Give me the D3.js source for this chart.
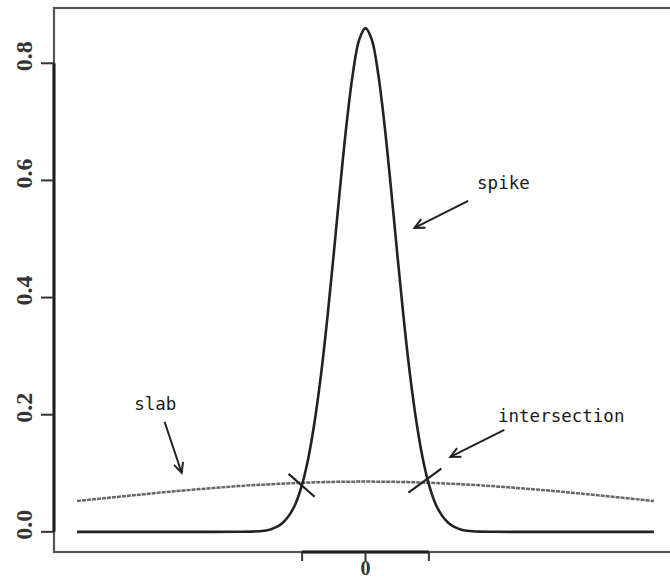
<!DOCTYPE html>
<html>
<head>
<meta charset="utf-8">
<script src="https://d3js.org/d3.v7.min.js"></script>
<style>
  html, body { margin: 0; padding: 0; background: #fff; overflow: hidden; }
  svg { display: block; }
  .note { font-family: "DejaVu Sans Mono", monospace; font-size: 17.5px; fill: #1a1a1a; }
  .ytick { font-family: "Liberation Serif", "DejaVu Serif", serif; font-size: 24px; font-weight: bold; fill: #333; }
  .xtick { font-family: "Liberation Serif", "DejaVu Serif", serif; font-size: 20px; font-weight: bold; fill: #333; }
</style>
</head>
<body>
<div id="main"></div>
<script>
const ctx = {
    width: 670,
    height: 581,
    box: {left: 54, top: 8, right: 677, bottom: 552}
};

// spike density
const spikeX = [-4.55, -3, -2.4, -2, -1.8, -1.6, -1.5, -1.4, -1.3, -1.2, -1.1, -1.0, -0.9, -0.8, -0.7, -0.6, -0.5, -0.4, -0.3, -0.2, -0.1, 0,
                0.1, 0.2, 0.3, 0.4, 0.5, 0.6, 0.7, 0.8, 0.9, 1.0, 1.1, 1.2, 1.3, 1.4, 1.5, 1.6, 1.8, 2, 2.4, 3, 4.55];
const spikeY = [0, 0, 0, 0.0001, 0.0004, 0.0020, 0.0042, 0.0084, 0.016, 0.029, 0.049, 0.081, 0.127, 0.190, 0.270, 0.367, 0.476, 0.589, 0.695, 0.782, 0.840, 0.860,
                0.840, 0.782, 0.695, 0.589, 0.476, 0.367, 0.270, 0.190, 0.127, 0.081, 0.049, 0.029, 0.016, 0.0084, 0.0042, 0.0020, 0.0004, 0.0001, 0, 0, 0];

// slab density
const slabX = [-4.55, -4, -3.5, -3, -2.5, -2, -1.5, -1, -0.5, 0, 0.5, 1, 1.5, 2, 2.5, 3, 3.5, 4, 4.55];
const slabY = [0.0526, 0.0588, 0.0642, 0.0694, 0.0740, 0.0781, 0.0814, 0.0838, 0.0853, 0.0858,
               0.0853, 0.0838, 0.0814, 0.0781, 0.0740, 0.0694, 0.0642, 0.0588, 0.0526];

const yTicks = [0, 0.2, 0.4, 0.6, 0.8];
const xTicks = [-1, 0, 1];
const xTickLabels = ["", "0", ""];

// annotations in data units
const labels = [
    {text: "spike", x: 1.76, y: 0.586},
    {text: "slab", x: -3.65, y: 0.208},
    {text: "intersection", x: 2.09, y: 0.188}
];
const arrows = [
    {x1: 1.62, y1: 0.565, x2: 0.772, y2: 0.519},
    {x1: -3.17, y1: 0.188, x2: -2.90, y2: 0.101},
    {x1: 2.19, y1: 0.174, x2: 1.339, y2: 0.128}
];
const marks = [
    {x1: -1.213, y1: 0.099, x2: -0.803, y2: 0.060},
    {x1: 1.197, y1: 0.108, x2: 0.677, y2: 0.067}
];

function createViz() {
    const svg = d3.select("#main").append("svg")
        .attr("width", ctx.width)
        .attr("height", ctx.height);

    // R style: 4% padding round the data range
    const x = d3.scaleLinear().domain([-4.914, 4.914]).range([ctx.box.left, ctx.box.right]);
    const y = d3.scaleLinear().domain([-0.0344, 0.8944]).range([ctx.box.bottom, ctx.box.top]);

    const line = d3.line()
        .x(d => x(d[0]))
        .y(d => y(d[1]))
        .curve(d3.curveCatmullRom);

    // slab
    svg.append("path")
        .datum(d3.zip(slabX, slabY))
        .attr("d", line)
        .attr("fill", "none")
        .attr("stroke", "#666")
        .attr("stroke-width", 2.5)
        .attr("stroke-dasharray", "4 1");

    // spike
    svg.append("path")
        .datum(d3.zip(spikeX, spikeY))
        .attr("d", line)
        .attr("fill", "none")
        .attr("stroke", "#222")
        .attr("stroke-width", 2.6);

    // plot box
    svg.append("rect")
        .attr("x", ctx.box.left)
        .attr("y", ctx.box.top)
        .attr("width", ctx.box.right - ctx.box.left)
        .attr("height", ctx.box.bottom - ctx.box.top)
        .attr("fill", "none")
        .attr("stroke", "#555")
        .attr("stroke-width", 2.2);

    // y axis
    const yAxis = svg.append("g")
        .attr("transform", `translate(${ctx.box.left},0)`);
    yAxis.append("line")
        .attr("y1", y(0)).attr("y2", y(0.8))
        .attr("stroke", "#1a1a1a").attr("stroke-width", 3);
    yAxis.selectAll(".tick")
        .data(yTicks)
        .enter().append("line")
        .attr("x1", -13).attr("x2", 0)
        .attr("y1", d => y(d)).attr("y2", d => y(d))
        .attr("stroke", "#333").attr("stroke-width", 2);
    yAxis.selectAll("text")
        .data(yTicks)
        .enter().append("text")
        .attr("class", "ytick")
        .attr("text-anchor", "middle")
        .attr("transform", d => `translate(-22,${y(d) - 7}) rotate(-90)`)
        .text(d => d.toFixed(1));

    // x axis (only the bracket round 0)
    const xAxis = svg.append("g")
        .attr("transform", `translate(0,${ctx.box.bottom})`);
    xAxis.append("line")
        .attr("x1", x(xTicks[0])).attr("x2", x(xTicks[xTicks.length - 1]))
        .attr("stroke", "#1a1a1a").attr("stroke-width", 3);
    xAxis.selectAll(".tick")
        .data(xTicks)
        .enter().append("line")
        .attr("x1", d => x(d)).attr("x2", d => x(d))
        .attr("y1", 0).attr("y2", 9)
        .attr("stroke", "#333").attr("stroke-width", 2);
    xAxis.selectAll("text")
        .data(xTicks)
        .enter().append("text")
        .attr("class", "xtick")
        .attr("text-anchor", "middle")
        .attr("x", d => x(d))
        .attr("y", 23)
        .text((d, i) => xTickLabels[i]);

    // crossing strokes at the intersections
    svg.selectAll(".mark")
        .data(marks)
        .enter().append("line")
        .attr("x1", d => x(d.x1)).attr("y1", d => y(d.y1))
        .attr("x2", d => x(d.x2)).attr("y2", d => y(d.y2))
        .attr("stroke", "#222").attr("stroke-width", 2.2);

    // arrows with open heads
    arrows.forEach(a => {
        const x1 = x(a.x1), y1 = y(a.y1), x2 = x(a.x2), y2 = y(a.y2);
        const ang = Math.atan2(y1 - y2, x1 - x2);
        const len = 11, spread = 0.45;
        svg.append("line")
            .attr("x1", x1).attr("y1", y1).attr("x2", x2).attr("y2", y2)
            .attr("stroke", "#222").attr("stroke-width", 2);
        svg.append("path")
            .attr("d", `M${x2 + len * Math.cos(ang + spread)},${y2 + len * Math.sin(ang + spread)}L${x2},${y2}L${x2 + len * Math.cos(ang - spread)},${y2 + len * Math.sin(ang - spread)}`)
            .attr("fill", "none")
            .attr("stroke", "#222").attr("stroke-width", 2);
    });

    svg.selectAll(".note")
        .data(labels)
        .enter().append("text")
        .attr("class", "note")
        .attr("x", d => x(d.x))
        .attr("y", d => y(d.y))
        .text(d => d.text);
}

createViz();
</script>
</body>
</html>
